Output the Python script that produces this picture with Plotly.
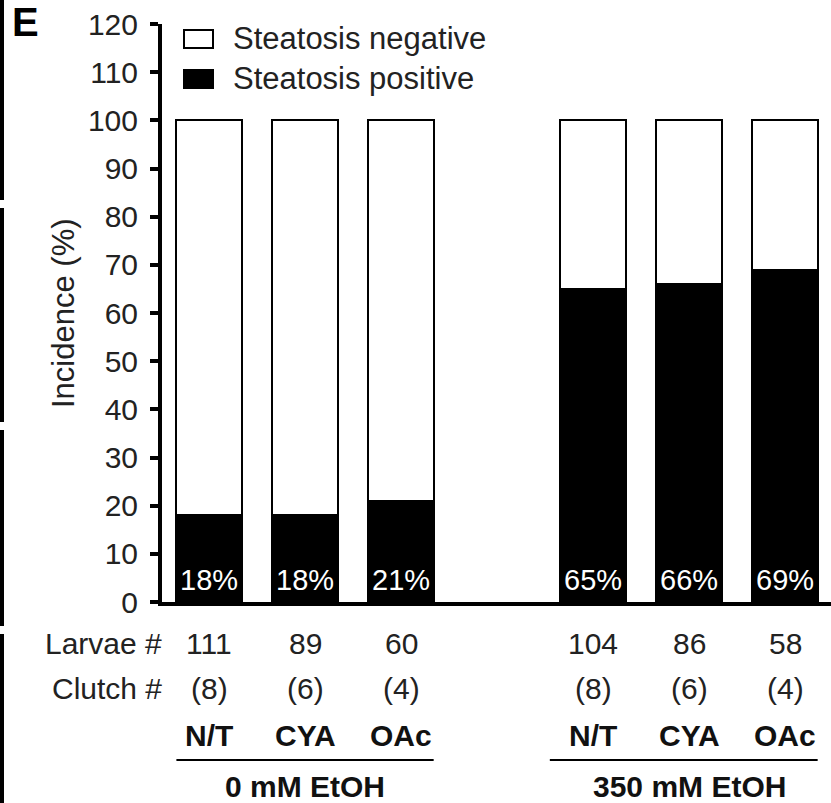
import plotly.graph_objects as go

# Steatosis incidence per treatment group
treatments = ["N/T", "CYA", "OAc", "N/T", "CYA", "OAc"]
positions = [0, 1, 2, 4, 5, 6]
positive_pct = [18, 18, 21, 65, 66, 69]
larvae_n = [111, 89, 60, 104, 86, 58]
clutch_n = [8, 6, 4, 8, 6, 4]
group_names = ["0 mM EtOH", "350 mM EtOH"]
group_centers = [1, 5]
group_spans = [(-0.34, 2.34), (3.55, 6.34)]
y_ticks = list(range(0, 121, 10))

negative_pct = [100 - p for p in positive_pct]

W, H = 831, 803
L, R, T, B = 162, 0, 24, 201
PW, PH = W - L - R, H - T - B
FONT = "Liberation Sans, Arial, Helvetica, sans-serif"


def px_x(px):
    return (px - L) / PW


def px_y(py):
    return (H - B - py) / PH


fig = go.Figure()
fig.add_trace(go.Bar(
    x=positions, y=positive_pct, name="Steatosis positive",
    marker=dict(color="black", line=dict(color="black", width=2)),
    width=0.68, showlegend=False,
))
fig.add_trace(go.Bar(
    x=positions, y=negative_pct, name="Steatosis negative",
    marker=dict(color="white", line=dict(color="black", width=2)),
    width=0.68, showlegend=False,
))

ann = []
# percentage labels at the foot of each black bar
for x, p in zip(positions, positive_pct):
    ann.append(dict(x=x, y=px_y(580), xref="x", yref="paper", text=f"{p}%",
                    showarrow=False, xanchor="center", yanchor="middle",
                    font=dict(family=FONT, size=29, color="white")))

# row headers
ann.append(dict(x=px_x(164), y=px_y(643), xref="paper", yref="paper", text="Larvae #",
                showarrow=False, xanchor="right", yanchor="middle",
                font=dict(family=FONT, size=30, color="#222")))
ann.append(dict(x=px_x(164), y=px_y(688), xref="paper", yref="paper", text="Clutch #",
                showarrow=False, xanchor="right", yanchor="middle",
                font=dict(family=FONT, size=30, color="#222")))

for x, n, c, t in zip(positions, larvae_n, clutch_n, treatments):
    ann.append(dict(x=x, y=px_y(643), xref="x", yref="paper", text=str(n),
                    showarrow=False, xanchor="center", yanchor="middle",
                    font=dict(family=FONT, size=30, color="#222")))
    ann.append(dict(x=x, y=px_y(688), xref="x", yref="paper", text=f"({c})",
                    showarrow=False, xanchor="center", yanchor="middle",
                    font=dict(family=FONT, size=30, color="#222")))
    ann.append(dict(x=x, y=px_y(735), xref="x", yref="paper", text=f"<b>{t}</b>",
                    showarrow=False, xanchor="center", yanchor="middle",
                    font=dict(family=FONT, size=30, color="#111")))

shapes = []
for name, cx, (x0, x1) in zip(group_names, group_centers, group_spans):
    shapes.append(dict(type="line", xref="x", yref="paper", x0=x0, x1=x1,
                       y0=px_y(760), y1=px_y(760), line=dict(color="black", width=2)))
    ann.append(dict(x=cx, y=px_y(786), xref="x", yref="paper", text=f"<b>{name}</b>",
                    showarrow=False, xanchor="center", yanchor="middle",
                    font=dict(family=FONT, size=30, color="#111")))

# y-axis title
ann.append(dict(x=px_x(63), y=px_y(313), xref="paper", yref="paper", text="Incidence (%)",
                textangle=-90, showarrow=False, xanchor="center", yanchor="middle",
                font=dict(family=FONT, size=31, color="#222")))

# panel letter
ann.append(dict(x=px_x(10), y=px_y(22), xref="paper", yref="paper", text="<b>E</b>",
                showarrow=False, xanchor="left", yanchor="middle",
                font=dict(family=FONT, size=40, color="black")))

# legend keys and labels
shapes.append(dict(type="rect", xref="paper", yref="paper", x0=px_x(184), x1=px_x(213),
                   y0=px_y(48), y1=px_y(30), fillcolor="white", line=dict(color="black", width=2)))
shapes.append(dict(type="rect", xref="paper", yref="paper", x0=px_x(184), x1=px_x(213),
                   y0=px_y(88), y1=px_y(70), fillcolor="black", line=dict(color="black", width=2)))
ann.append(dict(x=px_x(231), y=px_y(39), xref="paper", yref="paper", text="Steatosis negative",
                showarrow=False, xanchor="left", yanchor="middle",
                font=dict(family=FONT, size=31, color="#222")))
ann.append(dict(x=px_x(231), y=px_y(78), xref="paper", yref="paper", text="Steatosis positive",
                showarrow=False, xanchor="left", yanchor="middle",
                font=dict(family=FONT, size=31, color="#222")))

# neighbouring panel borders along the left edge
for y0, y1 in [(0, 200), (208, 422), (430, 626), (634, 803)]:
    shapes.append(dict(type="rect", xref="paper", yref="paper", x0=px_x(0), x1=px_x(4),
                       y0=px_y(y1), y1=px_y(y0), fillcolor="black", line=dict(width=0)))

fig.update_layout(
    barmode="stack",
    width=W, height=H,
    margin=dict(l=L, r=R, t=T, b=B, pad=0),
    paper_bgcolor="white", plot_bgcolor="white",
    font=dict(family=FONT, color="#222"),
    annotations=ann, shapes=shapes,
    xaxis=dict(range=[-0.49, 6.479], showticklabels=False, ticks="", showgrid=False,
               zeroline=False, showline=True, linecolor="black", linewidth=4,
               fixedrange=True),
    yaxis=dict(range=[0, 120], tickvals=y_ticks, ticks="outside", ticklen=8, tickwidth=4,
               tickcolor="black", showgrid=False, zeroline=False, showline=True,
               linecolor="black", linewidth=4, ticklabelstandoff=6,
               tickfont=dict(family=FONT, size=30, color="#222"), fixedrange=True),
)

fig.write_html("out.html")
